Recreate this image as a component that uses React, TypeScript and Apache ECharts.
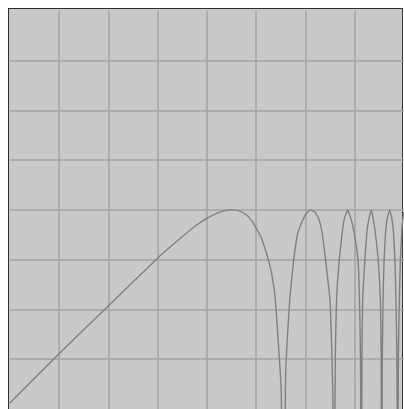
import React, { useEffect, useRef } from "react";
import * as echarts from "echarts";

// x positions (grid units, 0..8) and levels (grid units, 0..8); -3 marks a notch below the plot
const freqX: number[] = [
  0, 1.0, 2.0, 3.0, 3.5, 3.8, 4.0, 4.2, 4.35, 4.51, 4.68, 4.8, 4.92, 5.05, 5.12, 5.25, 5.33, 5.39, 5.46, 5.51, 5.56,
  5.6, 5.635, 5.685, 5.765, 5.85, 5.93, 6.01, 6.1, 6.2, 6.28, 6.34, 6.41, 6.5, 6.54, 6.56, 6.575,
  6.61, 6.635, 6.69, 6.75, 6.79, 6.86, 6.93, 6.99, 7.07, 7.1, 7.12, 7.14,
  7.15, 7.165, 7.21, 7.25, 7.29, 7.34, 7.38, 7.42, 7.48, 7.525, 7.54, 7.55,
  7.565, 7.578, 7.6, 7.63, 7.66, 7.71, 7.76, 7.79, 7.82, 7.84, 7.86, 7.875,
  7.89, 7.91, 7.93, 7.965, 8.0,
];
const levelY: number[] = [
  0.12, 1.11, 2.07, 3.03, 3.46, 3.7, 3.83, 3.93, 3.98, 4.0, 3.97, 3.9, 3.77, 3.55, 3.41, 3.0, 2.65, 2.21, 1.21, 0.41, -3,
  0.68, 1.41, 2.21, 3.0, 3.55, 3.75, 3.91, 4.0, 3.95, 3.8, 3.55, 3.0, 2.21, 1.08, 0.21, -3,
  1.08, 2.21, 3.0, 3.55, 3.81, 4.0, 3.81, 3.55, 3.0, 2.21, 1.08, -3,
  1.08, 2.21, 3.0, 3.55, 3.81, 4.0, 3.81, 3.55, 3.0, 2.21, 1.08, -3,
  1.08, 2.21, 3.0, 3.55, 3.81, 4.0, 3.81, 3.55, 3.0, 2.21, 1.08, -3,
  1.08, 2.21, 3.0, 3.68, 3.95,
];

const axisMin = 0;
const axisMax = 8;
const axisStep = 1;

export default function App() {
  const ref = useRef<HTMLDivElement>(null);
  useEffect(() => {
    if (!ref.current) return;
    const chart = echarts.init(ref.current, undefined, { renderer: "svg" });
    const data = freqX.map((x, i) => [x, levelY[i]]);
    const axisCommon = {
      type: "value" as const,
      min: axisMin,
      max: axisMax,
      interval: axisStep,
      axisLabel: { show: false },
      axisTick: { show: false },
      axisLine: { show: false },
      splitLine: {
        show: true,
        showMinLine: false,
        showMaxLine: false,
        lineStyle: { color: "#a2a2a2", width: 1.5 },
      },
    };
    chart.setOption({
      animation: false,
      grid: { left: 9.8, top: 10.7, width: 394, height: 400, show: false },
      xAxis: axisCommon,
      yAxis: axisCommon,
      series: [
        {
          type: "line",
          data,
          showSymbol: false,
          smooth: 0.12,
          clip: true,
          lineStyle: { color: "#808080", width: 1.4 },
        },
      ],
    });
    return () => chart.dispose();
  }, []);
  return (
    <div style={{ position: "fixed", left: 0, top: 0, width: 404, height: 409, background: "#ffffff" }}>
      <div
        style={{
          position: "absolute",
          left: 8,
          top: 8,
          width: 395,
          height: 401,
          boxSizing: "border-box",
          background: "#c9c9c9",
          borderLeft: "1.5px solid #2e2e2e",
          borderTop: "1.5px solid #2e2e2e",
          borderRight: "1.5px solid #3a3a3a",
        }}
      />
      <div ref={ref} style={{ position: "absolute", left: 0, top: 0, width: 404, height: 409 }} />
    </div>
  );
}
